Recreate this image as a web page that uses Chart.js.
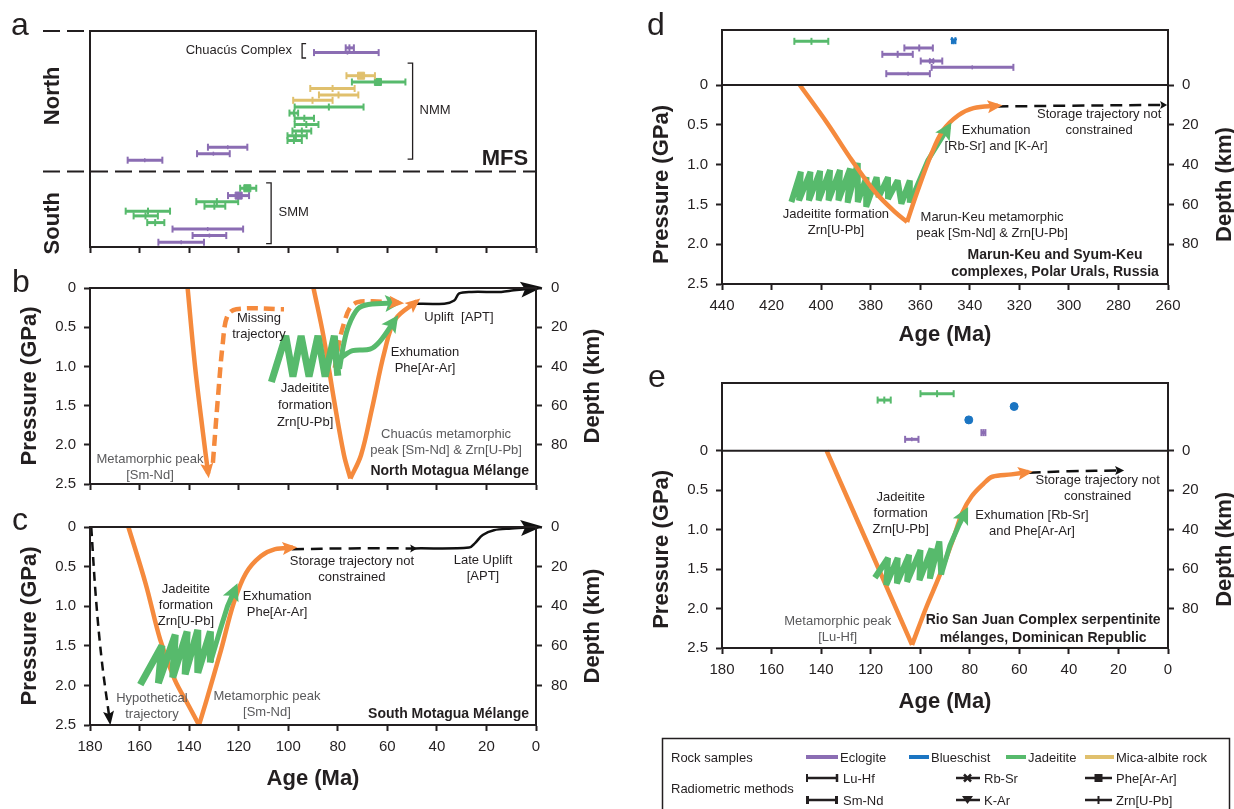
<!DOCTYPE html>
<html>
<head>
<meta charset="utf-8">
<title>Jadeitite P-T-t paths</title>
<script src="https://cdn.jsdelivr.net/npm/chart.js@4.4.1/dist/chart.umd.min.js"></script>
<style>
  body { margin: 0; background: #fff; }
  #wrap { position: relative; width: 1234px; height: 809px; overflow: hidden; background: #fff; }
  #wrap canvas { position: absolute; }
  #overlay { position: absolute; left: 0; top: 0; pointer-events: none; }
</style>
</head>
<body>
<div id="wrap">
  <canvas id="ca" width="620" height="262" style="left:0;top:0"></canvas>
  <canvas id="cb" width="620" height="240" style="left:0;top:262px"></canvas>
  <canvas id="cc" width="620" height="307" style="left:0;top:502px"></canvas>
  <canvas id="cd" width="614" height="350" style="left:620px;top:0"></canvas>
  <canvas id="ce" width="614" height="370" style="left:620px;top:365px"></canvas>

  <svg id="overlay" width="1234" height="809" font-family="Liberation Sans, Arial, Helvetica, sans-serif" fill="#231f20">
    <text x="11" y="35" font-size="32">a</text>
    <text x="12" y="292" font-size="32">b</text>
    <text x="12" y="530" font-size="32">c</text>
    <text x="647" y="35" font-size="32">d</text>
    <text x="648" y="387" font-size="32">e</text>

    <rect x="662.5" y="738.5" width="567" height="90" fill="none" stroke="#231f20" stroke-width="1.5"/>
    <text x="671" y="762" font-size="13">Rock samples</text>
    <line x1="806" y1="757" x2="838" y2="757" stroke="#8b6db3" stroke-width="4"/>
    <text x="840" y="762" font-size="13">Eclogite</text>
    <line x1="909" y1="757" x2="929" y2="757" stroke="#1b75c2" stroke-width="4"/>
    <text x="931" y="762" font-size="13">Blueschist</text>
    <line x1="1006" y1="757" x2="1026" y2="757" stroke="#57ba6c" stroke-width="4"/>
    <text x="1028" y="762" font-size="13">Jadeitite</text>
    <line x1="1085" y1="757" x2="1114" y2="757" stroke="#e0c06d" stroke-width="4"/>
    <text x="1116" y="762" font-size="13">Mica-albite rock</text>

    <text x="671" y="792.5" font-size="13">Radiometric methods</text>
    <g stroke="#231f20">
      <line x1="807" y1="778" x2="837" y2="778" stroke-width="2.5"/>
      <line x1="807" y1="774" x2="807" y2="782" stroke-width="2"/>
      <line x1="837" y1="774" x2="837" y2="782" stroke-width="2.5"/>
      <line x1="807" y1="800" x2="837" y2="800" stroke-width="2.5"/>
      <line x1="956" y1="778" x2="980" y2="778" stroke-width="2.5"/>
      <line x1="964" y1="774.5" x2="971" y2="781.5" stroke-width="2.5"/>
      <line x1="971" y1="774.5" x2="964" y2="781.5" stroke-width="2.5"/>
      <line x1="956" y1="800" x2="980" y2="800" stroke-width="2.5"/>
      <line x1="1085" y1="778" x2="1112" y2="778" stroke-width="2.5"/>
      <line x1="1085" y1="800" x2="1112" y2="800" stroke-width="2.5"/>
      <line x1="1098.5" y1="796" x2="1098.5" y2="804" stroke-width="2"/>
    </g>
    <rect x="806" y="796" width="3" height="8"/>
    <rect x="835" y="796" width="3" height="8"/>
    <polygon points="962,796 973,796 967.5,804"/>
    <rect x="1094.5" y="774" width="8" height="8"/>
    <text x="843" y="782.5" font-size="13">Lu-Hf</text>
    <text x="843" y="804.5" font-size="13">Sm-Nd</text>
    <text x="984" y="782.5" font-size="13">Rb-Sr</text>
    <text x="984" y="804.5" font-size="13">K-Ar</text>
    <text x="1116" y="782.5" font-size="13">Phe[Ar-Ar]</text>
    <text x="1116" y="804.5" font-size="13">Zrn[U-Pb]</text>
  </svg>
</div>

<script>
// ---------- data ----------
// panel a: age ranges (Ma) of dated samples; row = place in the stack (0 top .. 100 bottom)
const aRow    = [7.8, 10, 20.7, 23.6, 26.6, 29.6, 32.1, 35.2, 38, 40.4, 43.3, 46.3, 48.5, 50.7, 53.8, 56.8, 59.8, 72.8, 76.2, 79, 81.1, 83.4, 85.6, 88.7, 91.7, 94.7, 97.8];
const aOld    = [76.8, 89.6, 76.5, 74.3, 91.1, 87.6, 98, 97.4, 99.5, 97.4, 97.4, 98.3, 100.3, 100.3, 132.4, 136.8, 164.8, 119.4, 124.3, 137.1, 133.8, 165.6, 162.4, 156.9, 146.7, 138.6, 152.4];
const aYoung  = [73.5, 63.5, 65, 52.7, 73.2, 71.7, 82.1, 69.6, 96, 89.6, 87.8, 90.7, 92.5, 94.5, 116.5, 123.6, 150.8, 112.9, 115.8, 120.2, 125.4, 147.7, 152.6, 150, 118.2, 125, 134];
const aAge    = [75.3, 76.1, 70.6, 63.8, 82.1, 79.7, 90.2, 83.6, 97.7, 93.5, 92.7, 94.5, 96.9, 97.7, 124.4, 130.2, 157.9, 116.5, 120, 128.8, 129.8, 156.6, 157.6, 153.7, 132.5, 131.8, 143.2];
const aRock   = ['E','E','M','J','M','M','M','J','J','J','J','J','J','J','E','E','E','J','E','J','J','J','J','J','E','E','E'];
const aMethod = ['Zrn','LuHf','Phe','Phe','Zrn','Zrn','Zrn','Zrn','Zrn','Zrn','Zrn','Zrn','Zrn','Zrn','SmNd','SmNd','SmNd','Phe','Phe','Zrn','Zrn','Zrn','Zrn','Zrn','LuHf','SmNd','SmNd'];
const mfsRow  = 65;

// panel d: Polar Urals samples
const dRow    = [19.4, 20.6, 32.7, 44.2, 56.4, 67.9, 79.4];
const dOld    = [347.2, 410.8, 366.4, 375.3, 359.8, 355.4, 373.7];
const dYoung  = [345.8, 397.1, 354.9, 363, 351.1, 322.4, 356.1];
const dAge    = [346.5, 403.9, 360.4, 369.1, 355.4, 339, 364.9];
const dRock   = ['B','J','E','E','E','E','E'];
const dMethod = ['KAr','Zrn','Zrn','Zrn','RbSr','LuHf','SmNd'];

// panel e: Rio San Juan samples
const eRow    = [15.8, 25.2, 34.7, 54.5, 73.3, 83.2];
const eOld    = [99.9, 117.2, 62.6, 80.9, 75.3, 106.1];
const eYoung  = [86.5, 111.9, 61.6, 79.9, 73.7, 100.7];
const eAge    = [93.2, 114.5, 62.1, 80.4, 74.5, 103.4];
const eRock   = ['J','J','B','B','E','E'];
const eMethod = ['Zrn','Zrn','Dot','Dot','Zrn','SmNd'];

// P-t paths: [age (Ma), pressure (GPa)]
const bPeakDown    = [[140.6,0],[137.6,1.0],[134.4,1.85],[132.3,2.37]];
const bMissing     = [[130.4,2.23],[128.5,1.45],[126.4,0.7],[124.6,0.36],[121,0.27],[101.7,0.27]];
const bChuacusDown = [[89.8,0],[85.8,0.61],[81.4,1.45],[77.5,2.13],[74.9,2.43]];
const bChuacusUp   = [[74.9,2.43],[70.6,2.13],[66.2,1.54],[61.2,0.82],[56.8,0.4],[48.1,0.17]];
const bDashedUp    = [[81.2,1.02],[79.5,0.7],[77.5,0.45],[75.2,0.26],[72,0.18],[66,0.17],[55,0.19]];
const bJadeiteZig  = [[106.8,1.2],[101,0.61],[98.1,1.13],[94.8,0.61],[91.6,1.13],[88,0.61],[85.1,1.13],[81.4,0.61],[80,1.12]];
const bGreenUp1    = [[79.3,1.03],[77.5,0.7],[75.6,0.48],[72,0.27],[67.7,0.21],[56.1,0.19]];
const bGreenUp2    = [[79.3,0.9],[74,0.8],[67,0.78],[63,0.68],[56.8,0.4]];
const bUplift      = [[50.3,0.2],[37,0.2],[33,0.16],[31,0.07],[26,0.05],[14,0.05],[9,0.03],[0,0]];

const cHypothetical = [[179.5,0],[177.6,0.9],[175.2,1.7],[172,2.45]];
const cPeakDown     = [[164.5,0],[157.5,0.72],[151.7,1.42],[145.9,1.92],[140.1,2.26],[136,2.5]];
const cPeakUp       = [[136,2.5],[132.9,2.18],[127.1,1.55],[122,0.96],[117,0.58],[111.1,0.37],[105.3,0.28],[98.1,0.26]];
const cStorage      = [[98.6,0.28],[75,0.27],[48.8,0.27]];
const cUplift       = [[48.8,0.27],[27,0.26],[24.5,0.2],[21.5,0.1],[17,0.04],[10,0.02],[0,0]];
const cJadeiteZig   = [[159.7,1.99],[151,1.5],[152.4,1.97],[145.6,1.36],[146.6,1.9],[140.8,1.32],[141.6,1.86],[136.5,1.3],[136.5,1.84],[131.4,1.32],[131.4,1.71]];
const cGreenUp      = [[131.4,1.71],[127.5,1.3],[124.5,1.0],[121.3,0.77]];

const dPeakDown   = [[408.6,0],[397.5,0.48],[387.5,0.95],[378,1.35],[370,1.6],[365.3,1.72]];
const dPeakUp     = [[365.3,1.72],[361.5,1.37],[355.4,0.86],[350.8,0.57],[344.6,0.38],[338.5,0.29],[328.6,0.26]];
const dStorage    = [[329.3,0.27],[300,0.26],[261.2,0.25]];
const dJadeiteZig = [[412,1.47],[408.2,1.09],[408.9,1.45],[404.3,1.09],[404.9,1.45],[400.4,1.08],[401,1.45],[396.4,1.07],[397,1.45],[392.4,1.07],[393,1.45],[388.3,1.05],[389.3,1.48],[385.2,0.98],[385.2,1.47],[381.7,1.16],[381.8,1.53],[377.6,1.16],[376.8,1.41],[373,1.16],[373,1.43],[369.1,1.2],[367.6,1.49],[364.2,1.2],[364.2,1.48]];
const dGreenUp    = [[364.2,1.48],[356.9,0.945],[348.5,0.525]];

const ePeakDown   = [[137.8,0],[120.5,1.23],[103.3,2.46]];
const ePeakUp     = [[103.3,2.46],[97.5,1.98],[92.3,1.59],[86.5,1.1],[83.1,0.79],[79.3,0.58],[74.5,0.42],[70.9,0.33],[63.2,0.3],[56.3,0.27]];
const eStorage    = [[56.3,0.28],[40,0.26],[18.8,0.25]];
const eJadeiteZig = [[118.3,1.61],[113,1.36],[113.7,1.7],[109.1,1.36],[109.4,1.68],[104.5,1.32],[105.3,1.66],[99.9,1.26],[100.3,1.64],[95.4,1.24],[96.1,1.62],[92.3,1.15],[91.5,1.57]];
const eGreenUp    = [[91.5,1.57],[88,1.2],[84.5,0.95],[81.6,0.77]];

// ---------- styles ----------
const FONT = '"Liberation Sans", Arial, Helvetica, sans-serif';
const INK = '#231f20';
const GREY = '#5a5a5c';
const ORANGE = '#f58a3d';
const GREEN = '#57ba6c';
const BLACK = '#111111';
const ROCK_COLORS = { E: '#8b6db3', B: '#1b75c2', J: '#57ba6c', M: '#e0c06d' };
const MARKS = {
  Zrn:  { style: 'line', rot: 90, r: 3.5, bw: 2 },
  LuHf: { style: 'line', rot: 90, r: 2, bw: 1.5 },
  SmNd: { style: 'line', rot: 90, r: 2, bw: 1.5 },
  Phe:  { style: 'rect', rot: 0, r: 5, bw: 1 },
  RbSr: { style: 'crossRot', rot: 0, r: 3.5, bw: 2 },
  KAr:  { style: 'triangle', rot: 180, r: 3.5, bw: 1 },
  Dot:  { style: 'circle', rot: 0, r: 4, bw: 1 }
};

// one range line + one central marker per sample
function barSets(rows, olds, youngs, ages, rocks, methods, axisId) {
  const sets = [];
  rows.forEach((row, i) => {
    const c = ROCK_COLORS[rocks[i]];
    const m = MARKS[methods[i]];
    sets.push({
      data: [{ x: olds[i], y: row }, { x: youngs[i], y: row }],
      yAxisID: axisId, showLine: true, borderColor: c, borderWidth: 3,
      pointStyle: 'line', pointRotation: 90, pointRadius: methods[i] === 'Dot' ? 0 : 3.5,
      pointBorderColor: c, pointBorderWidth: 2, pointBackgroundColor: c
    });
    sets.push({
      data: [{ x: ages[i], y: row }],
      yAxisID: axisId, showLine: false,
      pointStyle: m.style, pointRotation: m.rot, pointRadius: m.r,
      pointBorderColor: c, pointBackgroundColor: c, pointBorderWidth: m.bw
    });
  });
  return sets;
}

function path(pts, color, width, extra) {
  return Object.assign({
    data: pts.map(p => ({ x: p[0], y: p[1] })),
    showLine: true, borderColor: color, backgroundColor: color, borderWidth: width,
    pointRadius: 0, tension: 0.35, borderJoinStyle: 'round', borderCapStyle: 'butt'
  }, extra || {});
}
function zig(pts, width) {
  return path(pts, GREEN, width || 7, { tension: 0, borderJoinStyle: 'bevel' });
}

// ---------- plugins ----------
const arrows = {
  id: 'arrows',
  afterDatasetsDraw(chart) {
    const ctx = chart.ctx;
    chart.data.datasets.forEach((ds, i) => {
      if (!ds.arrow) return;
      const pts = chart.getDatasetMeta(i).data;
      const p = pts[pts.length - 1], q = pts[pts.length - 2];
      const ang = Math.atan2(p.y - q.y, p.x - q.x);
      const [len, wid] = ds.arrow;
      ctx.save();
      ctx.translate(p.x, p.y);
      ctx.rotate(ang);
      ctx.fillStyle = ds.borderColor;
      ctx.beginPath();
      ctx.moveTo(len * 0.3, 0);
      ctx.lineTo(-len * 0.7, wid / 2);
      ctx.lineTo(-len * 0.5, 0);
      ctx.lineTo(-len * 0.7, -wid / 2);
      ctx.closePath();
      ctx.fill();
      ctx.restore();
    });
  }
};

const frame = {
  id: 'frame',
  afterDatasetsDraw(chart, args, o) {
    const { ctx, chartArea: a } = chart;
    ctx.save();
    ctx.strokeStyle = INK;
    ctx.lineWidth = 2;
    ctx.strokeRect(a.left, a.top, a.right - a.left, a.bottom - a.top);
    if (o.zero) {
      const y = chart.scales.y.getPixelForValue(0);
      ctx.beginPath(); ctx.moveTo(a.left, y); ctx.lineTo(a.right, y); ctx.stroke();
    }
    ctx.restore();
  }
};

const sideTitles = {
  id: 'sideTitles',
  afterDraw(chart, args, o) {
    if (!o.on) return;
    const { ctx, chartArea: a } = chart, y = chart.scales.y;
    const cy = (y.getPixelForValue(0) + y.getPixelForValue(2.5)) / 2;
    ctx.save();
    ctx.font = 'bold 22px ' + FONT;
    ctx.fillStyle = INK;
    ctx.textAlign = 'center';
    ctx.textBaseline = 'middle';
    [['Pressure (GPa)', a.left - 60], ['Depth (km)', a.right + 57]].forEach(([t, x]) => {
      ctx.save(); ctx.translate(x, cy); ctx.rotate(-Math.PI / 2); ctx.fillText(t, 0, 0); ctx.restore();
    });
    ctx.restore();
  }
};

const notes = {
  id: 'notes',
  afterDraw(chart, args, o) {
    const ctx = chart.ctx, xs = chart.scales.x;
    (o.items || []).forEach(n => {
      const ys = chart.scales[n.axis || 'y'];
      const px = xs.getPixelForValue(n.x), py = ys.getPixelForValue(n.y);
      const lh = n.lh || 16, size = n.size || 13;
      ctx.save();
      ctx.font = (n.bold ? 'bold ' : '') + size + 'px ' + FONT;
      ctx.fillStyle = n.color || INK;
      ctx.textAlign = n.align || 'center';
      ctx.textBaseline = 'middle';
      n.text.forEach((t, k) => ctx.fillText(t, px, py + (k - (n.text.length - 1) / 2) * lh));
      ctx.restore();
    });
    (o.brackets || []).forEach(b => {
      const ys = chart.scales[b.axis || 'y'];
      const px = xs.getPixelForValue(b.x), y0 = ys.getPixelForValue(b.y0), y1 = ys.getPixelForValue(b.y1);
      ctx.save();
      ctx.strokeStyle = INK; ctx.lineWidth = 1.3;
      ctx.beginPath();
      ctx.moveTo(px + b.dir * b.len, y0); ctx.lineTo(px, y0); ctx.lineTo(px, y1); ctx.lineTo(px + b.dir * b.len, y1);
      ctx.stroke();
      ctx.restore();
    });
  }
};

// panel a side decoration: fault lines and North / South labels
const aDecor = {
  id: 'aDecor',
  afterDraw(chart) {
    const { ctx, chartArea: a } = chart, r = chart.scales.y;
    const yM = r.getPixelForValue(mfsRow);
    ctx.save();
    ctx.strokeStyle = INK; ctx.lineWidth = 2; ctx.setLineDash([17, 7]);
    ctx.beginPath();
    ctx.moveTo(a.left - 47, a.top); ctx.lineTo(a.left, a.top);
    ctx.moveTo(a.left - 47, yM); ctx.lineTo(a.right, yM);
    ctx.stroke();
    ctx.setLineDash([]);
    ctx.font = 'bold 22px ' + FONT; ctx.fillStyle = INK;
    ctx.textAlign = 'center'; ctx.textBaseline = 'middle';
    [['North', 30], ['South', 89]].forEach(([t, row]) => {
      ctx.save(); ctx.translate(a.left - 37, r.getPixelForValue(row)); ctx.rotate(-Math.PI / 2);
      ctx.fillText(t, 0, 0); ctx.restore();
    });
    ctx.restore();
  }
};

// ---------- axes ----------
const tickFont = { family: FONT, size: 15 };
const gridOpts = { drawOnChartArea: false, tickLength: 6, tickWidth: 2, tickColor: INK };
const borderOpts = { color: INK, width: 2 };

function xAxis(min, max, labelled, height, titlePad) {
  return {
    type: 'linear', min: min, max: max, reverse: true,
    ticks: { display: labelled, stepSize: 20, autoSkip: false, maxRotation: 0, padding: 7, color: INK, font: tickFont },
    grid: gridOpts, border: borderOpts,
    title: { display: labelled, text: 'Age (Ma)', color: INK, font: { family: FONT, size: 22, weight: 'bold' }, padding: { top: 0, bottom: titlePad || 0 } },
    afterFit: s => { s.height = height; }
  };
}
function onGrid(v, step, lo, hi) {
  return v >= lo - 1e-9 && v <= hi + 1e-9 && Math.abs(v / step - Math.round(v / step)) < 1e-6;
}
function pAxis(top, width) {
  return {
    type: 'linear', position: 'left', reverse: true, min: top, max: 2.5,
    ticks: { stepSize: 0.5, padding: 8, color: INK, font: tickFont, callback: v => Math.abs(v) < 1e-9 ? '0' : v.toFixed(1) },
    afterBuildTicks: s => { s.ticks = s.ticks.filter(t => onGrid(t.value, 0.5, 0, 2.5)); },
    grid: gridOpts, border: borderOpts,
    afterFit: s => { s.width = width; }
  };
}
function depthAxis(top, width, pad) {
  return {
    type: 'linear', axis: 'y', position: 'right', reverse: true, min: top * 40, max: 100,
    ticks: { stepSize: 20, padding: pad, color: INK, font: tickFont, callback: v => Math.round(v) },
    afterBuildTicks: s => { s.ticks = s.ticks.filter(t => onGrid(t.value, 20, 0, 80)); },
    grid: gridOpts, border: borderOpts,
    afterFit: s => { s.width = width; }
  };
}
function rankAxis(max) {
  return { type: 'linear', axis: 'y', position: 'left', display: false, reverse: true, min: 0, max: max };
}

function makeChart(id, datasets, scales, padding, pluginOpts) {
  return new Chart(document.getElementById(id), {
    type: 'scatter',
    data: { datasets: datasets },
    options: {
      responsive: false, animation: false, events: [], devicePixelRatio: 1,
      layout: { padding: padding },
      scales: scales,
      plugins: Object.assign({ legend: { display: false }, tooltip: { enabled: false } }, pluginOpts)
    },
    plugins: [arrows, frame, sideTitles, notes].concat(pluginOpts.extra || [])
  });
}

// ---------- panel a ----------
makeChart('ca',
  barSets(aRow, aOld, aYoung, aAge, aRock, aMethod, 'y'),
  { x: xAxis(0, 180, false, 6), y: { type: 'linear', display: false, reverse: true, min: 0, max: 100 } },
  { top: 31, left: 90, right: 84, bottom: 9 },
  {
    notes: {
      items: [
        { text: ['Chuacús Complex'], x: 98.5, y: 9.2, align: 'right' },
        { text: ['NMM'], x: 47, y: 36.8, align: 'left' },
        { text: ['SMM'], x: 103.9, y: 84, align: 'left' },
        { text: ['MFS'], x: 3.2, y: 59, align: 'right', bold: true, size: 22 }
      ],
      brackets: [
        { x: 94.4, y0: 5.8, y1: 12.5, dir: 1, len: 4 },
        { x: 49.8, y0: 14.9, y1: 59.3, dir: -1, len: 5 },
        { x: 106.9, y0: 70.3, y1: 98.4, dir: -1, len: 5 }
      ]
    },
    extra: [aDecor]
  });

// ---------- panel b ----------
makeChart('cb', [
    zig(bJadeiteZig),
    path(bGreenUp1, GREEN, 5, { arrow: [17, 17] }),
    path(bGreenUp2, GREEN, 5, { arrow: [17, 17] }),
    path(bPeakDown, ORANGE, 4.5, { arrow: [15, 13] }),
    path(bMissing, ORANGE, 4.5, { borderDash: [11, 6] }),
    path(bChuacusDown, ORANGE, 4.5),
    path(bChuacusUp, ORANGE, 4.5, { arrow: [15, 13] }),
    path(bDashedUp, ORANGE, 4.5, { borderDash: [11, 6], arrow: [15, 13] }),
    path(bUplift, BLACK, 2.5, { arrow: [22, 16] })
  ],
  { x: xAxis(0, 180, false, 6), y: pAxis(0, 90), yDepth: depthAxis(0, 84, 9) },
  { top: 26, left: 0, right: 0, bottom: 10 },
  {
    sideTitles: { on: true },
    notes: { items: [
      { text: ['Missing', 'trajectory'], x: 111.8, y: 0.49 },
      { text: ['Jadeitite', 'formation', 'Zrn[U-Pb]'], x: 93.2, y: 1.5, lh: 17 },
      { text: ['Exhumation', 'Phe[Ar-Ar]'], x: 44.8, y: 0.93 },
      { text: ['Uplift  [APT]'], x: 31.1, y: 0.37 },
      { text: ['Chuacús metamorphic', 'peak [Sm-Nd] & Zrn[U-Pb]'], x: 36.3, y: 1.97, color: GREY },
      { text: ['Metamorphic peak', '[Sm-Nd]'], x: 155.8, y: 2.29, color: GREY },
      { text: ['North Motagua Mélange'], x: 2.8, y: 2.34, bold: true, size: 14, align: 'right' }
    ] }
  });

// ---------- panel c ----------
makeChart('cc', [
    zig(cJadeiteZig),
    path(cGreenUp, GREEN, 5, { arrow: [17, 17], tension: 0 }),
    path(cPeakDown, ORANGE, 4.5),
    path(cPeakUp, ORANGE, 4.5, { arrow: [15, 13] }),
    path(cHypothetical, BLACK, 2.5, { borderDash: [9, 6], arrow: [14, 11] }),
    path(cStorage, BLACK, 2.5, { borderDash: [12, 7], arrow: [7, 8] }),
    path(cUplift, BLACK, 2.5, { arrow: [22, 16] })
  ],
  { x: xAxis(0, 180, true, 84, 17), y: pAxis(0, 90), yDepth: depthAxis(0, 84, 9) },
  { top: 25, left: 0, right: 0, bottom: 0 },
  {
    sideTitles: { on: true },
    notes: { items: [
      { text: ['Storage trajectory not', 'constrained'], x: 74.3, y: 0.54 },
      { text: ['Late Uplift', '[APT]'], x: 21.4, y: 0.52 },
      { text: ['Jadeitite', 'formation', 'Zrn[U-Pb]'], x: 141.3, y: 0.985 },
      { text: ['Exhumation', 'Phe[Ar-Ar]'], x: 104.5, y: 0.98 },
      { text: ['Hypothetical', 'trajectory'], x: 155, y: 2.27, color: GREY },
      { text: ['Metamorphic peak', '[Sm-Nd]'], x: 108.6, y: 2.24, color: GREY },
      { text: ['South Motagua Mélange'], x: 2.8, y: 2.36, bold: true, size: 14, align: 'right' }
    ] }
  });

// ---------- panel d ----------
const dTop = -0.691;
makeChart('cd', [
    path(dPeakDown, ORANGE, 4.5),
    path(dPeakUp, ORANGE, 4.5, { arrow: [15, 13] }),
    zig(dJadeiteZig, 6),
    path(dGreenUp, GREEN, 5, { arrow: [17, 17], tension: 0 }),
    path(dStorage, BLACK, 2.5, { borderDash: [12, 7], arrow: [7, 8] })
  ].concat(barSets(dRow, dOld, dYoung, dAge, dRock, dMethod, 'yRank')),
  {
    x: xAxis(260, 440, true, 66, 2), y: pAxis(dTop, 102), yDepth: depthAxis(dTop, 66, 8),
    yRank: rankAxis(100 * (2.5 - dTop) / -dTop)
  },
  { top: 30, left: 0, right: 0, bottom: 0 },
  {
    sideTitles: { on: true },
    frame: { zero: true },
    notes: { items: [
      { text: ['Exhumation', '[Rb-Sr] and [K-Ar]'], x: 329.4, y: 0.667 },
      { text: ['Storage trajectory not', 'constrained'], x: 287.8, y: 0.472 },
      { text: ['Jadeitite formation', 'Zrn[U-Pb]'], x: 394, y: 1.725 },
      { text: ['Marun-Keu metamorphic', 'peak [Sm-Nd] & Zrn[U-Pb]'], x: 331, y: 1.763 },
      { text: ['Marun-Keu and Syum-Keu', 'complexes, Polar Urals, Russia'], x: 305.6, y: 2.248, bold: true, size: 14, lh: 17 }
    ] }
  });

// ---------- panel e ----------
const eTop = -0.858;
makeChart('ce', [
    zig(eJadeiteZig, 6),
    path(eGreenUp, GREEN, 5, { arrow: [17, 17], tension: 0 }),
    path(ePeakDown, ORANGE, 4.5),
    path(ePeakUp, ORANGE, 4.5, { arrow: [15, 13] }),
    path(eStorage, BLACK, 2.5, { borderDash: [12, 7], arrow: [9, 9] })
  ].concat(barSets(eRow, eOld, eYoung, eAge, eRock, eMethod, 'yRank')),
  {
    x: xAxis(0, 180, true, 87, 20), y: pAxis(eTop, 102), yDepth: depthAxis(eTop, 66, 8),
    yRank: rankAxis(100 * (2.5 - eTop) / -eTop)
  },
  { top: 18, left: 0, right: 0, bottom: 0 },
  {
    sideTitles: { on: true },
    frame: { zero: true },
    notes: { items: [
      { text: ['Jadeitite', 'formation', 'Zrn[U-Pb]'], x: 107.9, y: 0.79 },
      { text: ['Exhumation [Rb-Sr]', 'and Phe[Ar-Ar]'], x: 54.9, y: 0.92 },
      { text: ['Storage trajectory not', 'constrained'], x: 28.4, y: 0.48 },
      { text: ['Metamorphic peak', '[Lu-Hf]'], x: 133.3, y: 2.27, color: GREY },
      { text: ['Rio San Juan Complex serpentinite', 'mélanges, Dominican Republic'], x: 50.4, y: 2.26, bold: true, size: 14, lh: 18 }
    ] }
  });
</script>
</body>
</html>
